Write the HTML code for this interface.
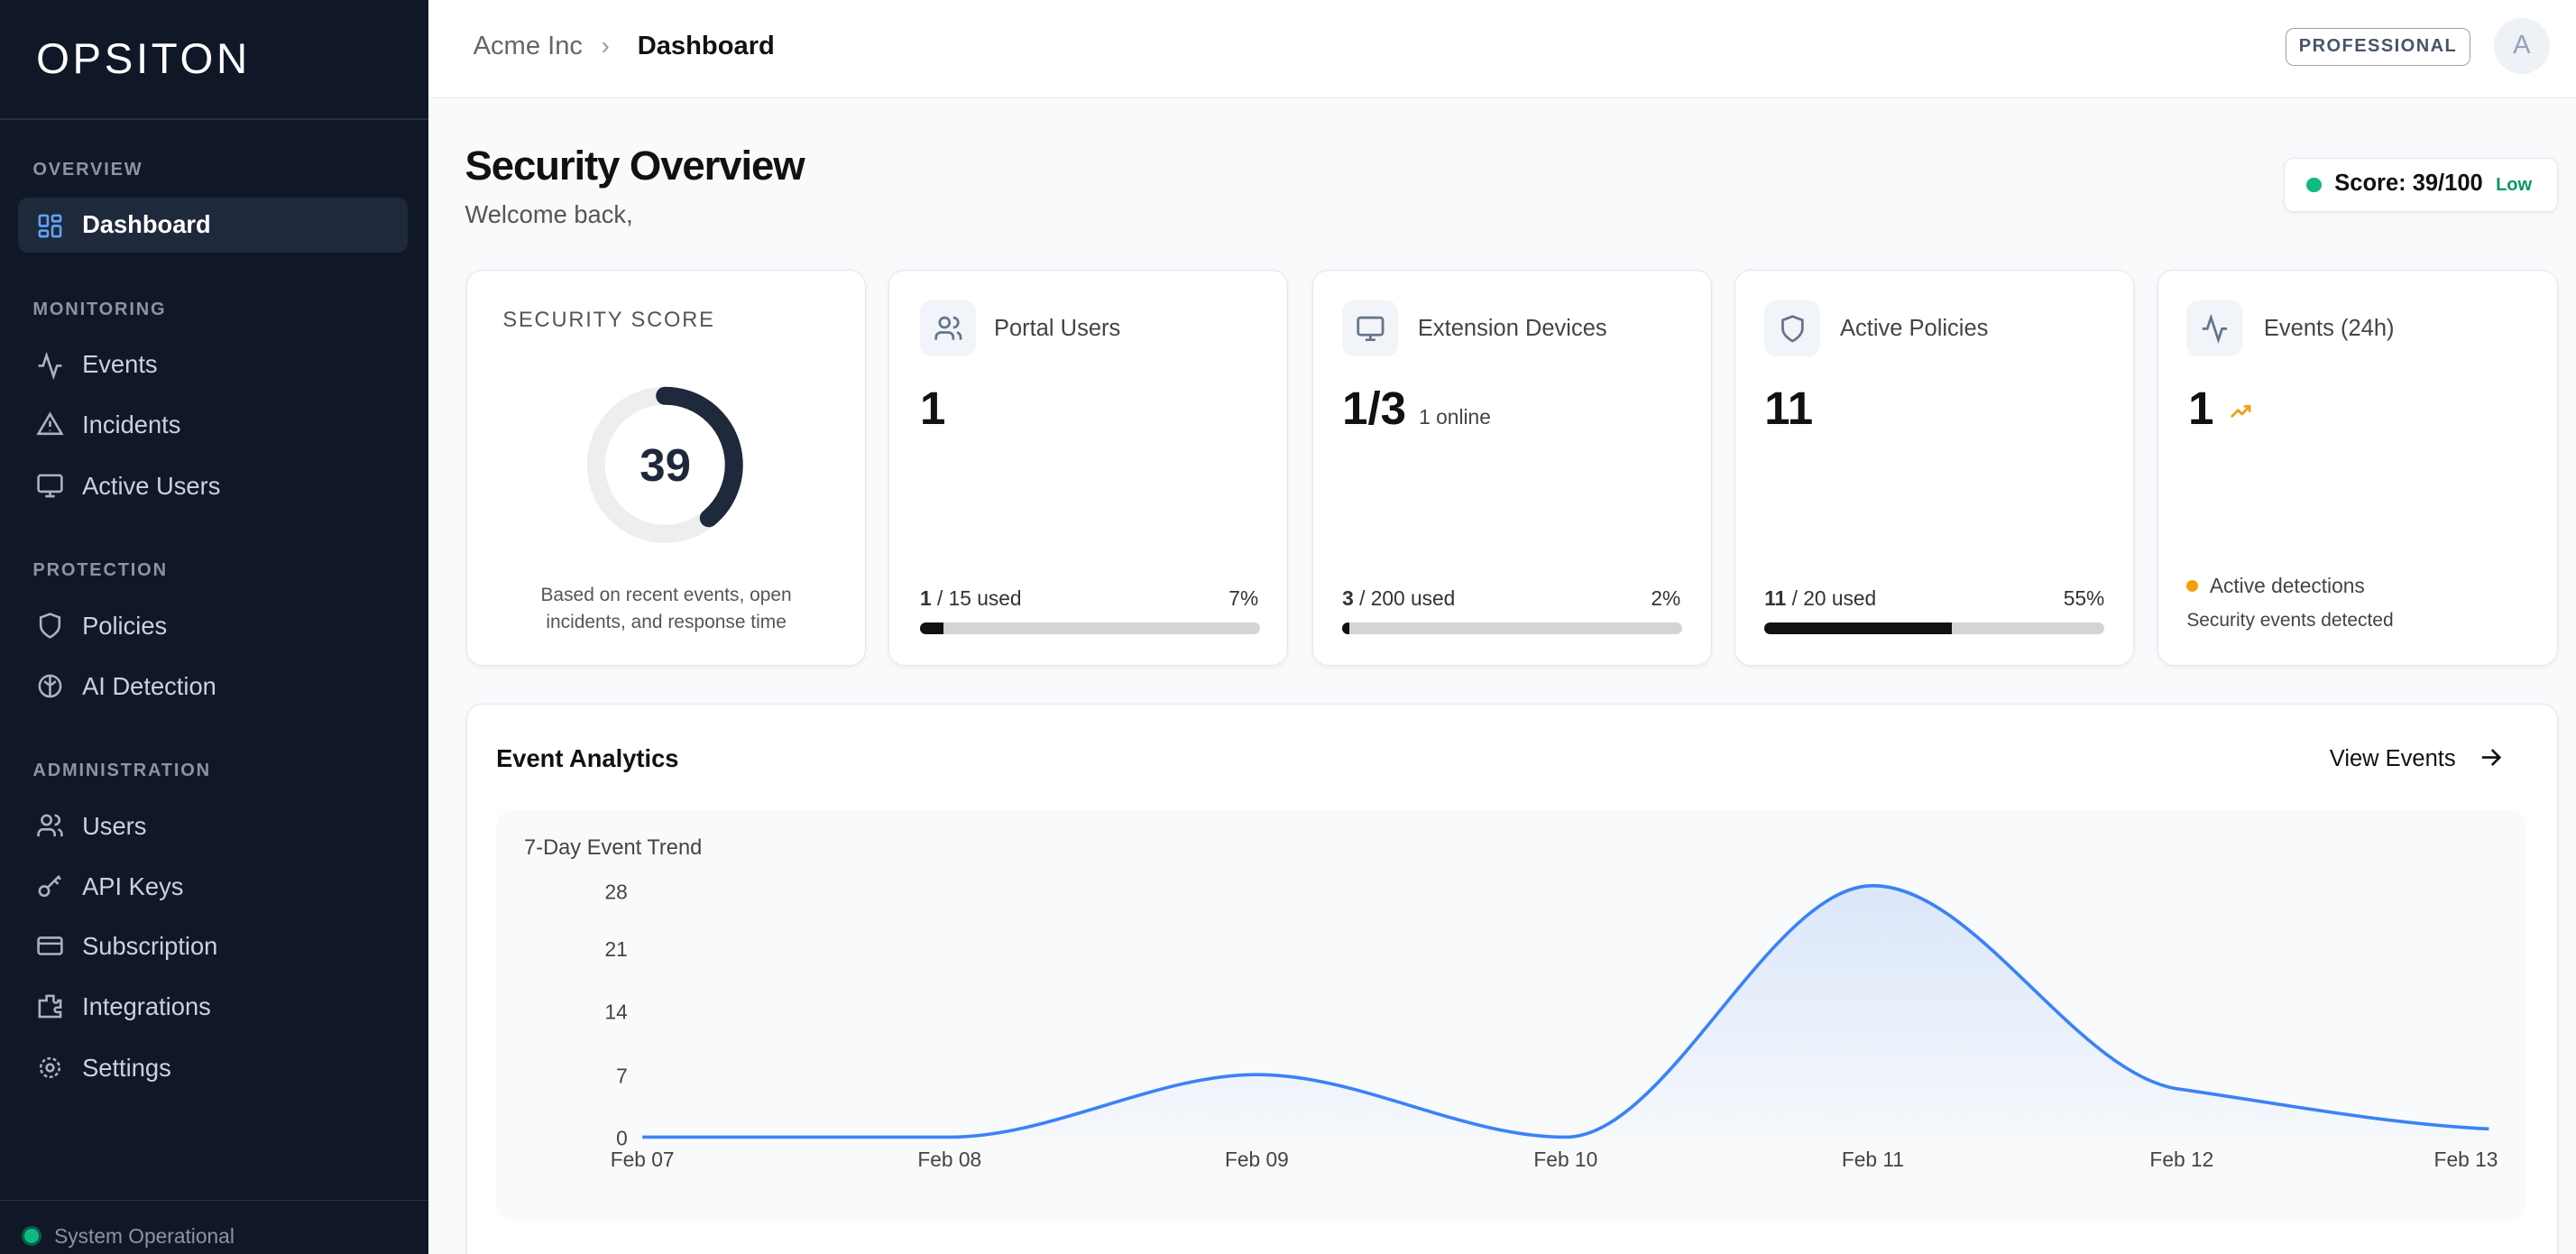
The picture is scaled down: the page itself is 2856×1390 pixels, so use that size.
<!DOCTYPE html>
<html><head><meta charset="utf-8"><style>
html{zoom:1.82143;background:#f8fafc;overflow:hidden;height:763px}
*{box-sizing:border-box;margin:0;padding:0}
body{width:1568px;height:763px;overflow:hidden;font-family:"Liberation Sans",sans-serif;background:#f8fafc}
#w{position:relative;width:1568px;height:763px;overflow:hidden}
.abs{position:absolute}
.sb{left:0;top:0;width:261px;height:763px;background:#101828}
.logo{left:22px;top:21px;color:#fff;font-size:26px;font-weight:300;letter-spacing:2px}
.sec{left:20px;color:#8a94a6;font-size:11px;font-weight:bold;letter-spacing:1px}
.it{left:50px;color:#cbd2dc;font-size:15px;font-weight:500}
.ic{left:22px;width:17px;height:17px}
.card{background:#fff;border:1px solid #e3e7ee;border-radius:10px;box-shadow:0 1px 3px rgba(0,0,0,.06)}
.ibox{width:34px;height:34px;border-radius:7px;background:#f1f4f8}
.lbl{font-size:14px;color:#444}
.big{font-size:28px;font-weight:bold;color:#111}
.bar{height:7px;border-radius:4px;background:#d4d4d4;overflow:hidden}
.bar i{display:block;height:100%;background:#111}
.sm{font-size:12.5px;color:#333}
</style></head><body><div id="w">
<div class="abs sb"></div>
<div class="abs logo">OPSITON</div>
<div class="abs" style="left:0;top:72px;width:261px;height:1px;background:#243047"></div>
<div class="abs sec" style="top:97px">OVERVIEW</div>
<div class="abs" style="left:11px;top:120px;width:237px;height:34px;background:#1e293b;border-radius:6px"></div>
<svg class="abs ic" style="top:129px" viewBox="0 0 24 24" fill="none" stroke="#60a5fa" stroke-width="2"><rect x="3" y="3" width="7" height="9" rx="1"/><rect x="14" y="3" width="7" height="5" rx="1"/><rect x="14" y="12" width="7" height="9" rx="1"/><rect x="3" y="16" width="7" height="5" rx="1"/></svg>
<div class="abs it" style="top:128px;color:#fff;font-weight:bold">Dashboard</div>
<div class="abs sec" style="top:182px">MONITORING</div>
<svg class="abs ic" style="top:214px" viewBox="0 0 24 24" fill="none" stroke="#aab3c0" stroke-width="2"><path d="M22 12h-4l-3 9L9 3l-3 9H2"/></svg>
<div class="abs it" style="top:213px">Events</div>
<svg class="abs ic" style="top:250px" viewBox="0 0 24 24" fill="none" stroke="#aab3c0" stroke-width="2"><path d="M12 3L2 20h20z"/><path d="M12 9v5M12 17v.5"/></svg>
<div class="abs it" style="top:250px">Incidents</div>
<svg class="abs ic" style="top:287px" viewBox="0 0 24 24" fill="none" stroke="#aab3c0" stroke-width="2"><rect x="2" y="3" width="20" height="14" rx="2"/><path d="M8 21h8M12 17v4"/></svg>
<div class="abs it" style="top:287px">Active Users</div>
<div class="abs sec" style="top:341px">PROTECTION</div>
<svg class="abs ic" style="top:372px" viewBox="0 0 24 24" fill="none" stroke="#aab3c0" stroke-width="2"><path d="M12 22s8-4 8-10V5l-8-3-8 3v7c0 6 8 10 8 10z"/></svg>
<div class="abs it" style="top:372px">Policies</div>
<svg class="abs ic" style="top:409px" viewBox="0 0 24 24" fill="none" stroke="#aab3c0" stroke-width="2"><circle cx="12" cy="12" r="9"/><path d="M12 3v18M7 8c2 1 3 3 5 3M17 8c-2 1-3 3-5 3"/></svg>
<div class="abs it" style="top:409px">AI Detection</div>
<div class="abs sec" style="top:463px">ADMINISTRATION</div>
<svg class="abs ic" style="top:494px" viewBox="0 0 24 24" fill="none" stroke="#aab3c0" stroke-width="2"><circle cx="9" cy="7" r="4"/><path d="M2 21v-2a4 4 0 014-4h6a4 4 0 014 4v2M16 3a4 4 0 010 8M22 21v-2a4 4 0 00-3-4"/></svg>
<div class="abs it" style="top:494px">Users</div>
<svg class="abs ic" style="top:531px" viewBox="0 0 24 24" fill="none" stroke="#aab3c0" stroke-width="2"><circle cx="7" cy="16" r="4"/><path d="M10 13l10-10M16 7l3 3M19 4l2 2"/></svg>
<div class="abs it" style="top:531px">API Keys</div>
<svg class="abs ic" style="top:567px" viewBox="0 0 24 24" fill="none" stroke="#aab3c0" stroke-width="2"><rect x="2" y="5" width="20" height="14" rx="2"/><path d="M2 10h20"/></svg>
<div class="abs it" style="top:567px">Subscription</div>
<svg class="abs ic" style="top:604px" viewBox="0 0 24 24" fill="none" stroke="#aab3c0" stroke-width="2"><path d="M9 3h6v4a2 2 0 104 0h2v6h-3a2 2 0 100 4h3v4H3V7h6z"/></svg>
<div class="abs it" style="top:604px">Integrations</div>
<svg class="abs ic" style="top:641px" viewBox="0 0 24 24" fill="none" stroke="#aab3c0" stroke-width="2"><circle cx="12" cy="12" r="3"/><circle cx="12" cy="12" r="8" stroke-dasharray="3 2"/></svg>
<div class="abs it" style="top:641px">Settings</div>
<div class="abs" style="left:0;top:730px;width:261px;height:1px;background:#243047"></div>
<div class="abs" style="left:13px;top:746px;width:12px;height:12px;border-radius:6px;background:#10b981;border:2px solid #065f46"></div>
<div class="abs" style="left:33px;top:745px;color:#8a94a6;font-size:12.5px">System Operational</div>

<div class="abs" style="left:261px;top:0;width:1307px;height:60px;background:#fff;border-bottom:1px solid #e5e7eb"></div>
<div class="abs" style="left:288px;top:19px;font-size:16px;color:#666">Acme Inc</div>
<div class="abs" style="left:366px;top:19px;font-size:15px;color:#999">›</div>
<div class="abs" style="left:388px;top:19px;font-size:16px;color:#111;font-weight:bold">Dashboard</div>
<div class="abs" style="left:1391px;top:17px;width:113px;height:23px;border:1px solid #94a3b8;border-radius:5px;font-size:11px;font-weight:bold;color:#475569;letter-spacing:.8px;text-align:center;line-height:21px">PROFESSIONAL</div>
<div class="abs" style="left:1518px;top:11px;width:34px;height:34px;border-radius:17px;background:#eef1f5;color:#94a3b8;font-size:16px;text-align:center;line-height:34px">A</div>

<div class="abs" style="left:283px;top:87px;font-size:25px;font-weight:bold;color:#111;letter-spacing:-.6px">Security Overview</div>
<div class="abs" style="left:283px;top:122px;font-size:15px;color:#555">Welcome back,</div>
<div class="abs card" style="left:1390px;top:96px;width:167px;height:33px;border-radius:6px"></div>
<div class="abs" style="left:1404px;top:108px;width:9px;height:9px;border-radius:5px;background:#10b981"></div>
<div class="abs" style="left:1421px;top:104px;font-size:14px;font-weight:bold;color:#111">Score: 39/100 <span style="font-size:11px;color:#059669;margin-left:4px">Low</span></div>

<div class="abs card" style="left:284px;top:164px;width:243px;height:241px"></div>
<div class="abs" style="left:306px;top:188px;font-size:13px;color:#555;letter-spacing:1px">SECURITY SCORE</div>
<svg class="abs" style="left:356px;top:234px" width="100" height="100" viewBox="0 0 100 100"><circle cx="49" cy="49" r="42" fill="none" stroke="#eeeeee" stroke-width="11"/><circle cx="49" cy="49" r="42" fill="none" stroke="#1e293b" stroke-width="11" stroke-linecap="round" stroke-dasharray="103 400" transform="rotate(-90 49 49)"/></svg>
<div class="abs" style="left:356px;top:267px;width:98px;text-align:center;font-size:28px;font-weight:bold;color:#1e293b">39</div>
<div class="abs" style="left:284px;top:354px;width:243px;text-align:center;font-size:11.5px;color:#555;line-height:16.5px">Based on recent events, open<br>incidents, and response time</div>

<div class="abs card" style="left:541px;top:164px;width:243px;height:241px"></div>
<div class="abs ibox" style="left:560px;top:183px"></div>
<svg class="abs" style="left:568px;top:191px" width="18" height="18" viewBox="0 0 24 24" fill="none" stroke="#64748b" stroke-width="2"><circle cx="9" cy="7" r="4"/><path d="M2 21v-2a4 4 0 014-4h6a4 4 0 014 4v2M16 3a4 4 0 010 8M22 21v-2a4 4 0 00-3-4"/></svg>
<div class="abs lbl" style="left:605px;top:192px">Portal Users</div>
<div class="abs big" style="left:560px;top:232px">1</div>
<div class="abs sm" style="left:560px;top:357px"><b>1</b> / 15 used</div>
<div class="abs sm" style="left:740px;top:357px;width:26px;text-align:right">7%</div>
<div class="abs bar" style="left:560px;top:379px;width:207px"><i style="width:7%"></i></div>

<div class="abs card" style="left:799px;top:164px;width:243px;height:241px"></div>
<div class="abs ibox" style="left:817px;top:183px"></div>
<svg class="abs" style="left:825px;top:191px" width="18" height="18" viewBox="0 0 24 24" fill="none" stroke="#64748b" stroke-width="2"><rect x="2" y="3" width="20" height="14" rx="2"/><path d="M8 21h8M12 17v4"/></svg>
<div class="abs lbl" style="left:863px;top:192px">Extension Devices</div>
<div class="abs big" style="left:817px;top:232px">1/3 <span style="font-size:12.5px;font-weight:normal;color:#444">1 online</span></div>
<div class="abs sm" style="left:817px;top:357px"><b>3</b> / 200 used</div>
<div class="abs sm" style="left:997px;top:357px;width:26px;text-align:right">2%</div>
<div class="abs bar" style="left:817px;top:379px;width:207px"><i style="width:2%"></i></div>

<div class="abs card" style="left:1056px;top:164px;width:243px;height:241px"></div>
<div class="abs ibox" style="left:1074px;top:183px"></div>
<svg class="abs" style="left:1082px;top:191px" width="18" height="18" viewBox="0 0 24 24" fill="none" stroke="#64748b" stroke-width="2"><path d="M12 22s8-4 8-10V5l-8-3-8 3v7c0 6 8 10 8 10z"/></svg>
<div class="abs lbl" style="left:1120px;top:192px">Active Policies</div>
<div class="abs big" style="left:1074px;top:232px">11</div>
<div class="abs sm" style="left:1074px;top:357px"><b>11</b> / 20 used</div>
<div class="abs sm" style="left:1251px;top:357px;width:30px;text-align:right">55%</div>
<div class="abs bar" style="left:1074px;top:379px;width:207px"><i style="width:55%"></i></div>

<div class="abs card" style="left:1313px;top:164px;width:244px;height:241px"></div>
<div class="abs ibox" style="left:1331px;top:183px"></div>
<svg class="abs" style="left:1339px;top:191px" width="18" height="18" viewBox="0 0 24 24" fill="none" stroke="#64748b" stroke-width="2"><path d="M22 12h-4l-3 9L9 3l-3 9H2"/></svg>
<div class="abs lbl" style="left:1378px;top:192px">Events (24h)</div>
<div class="abs big" style="left:1332px;top:232px">1</div>
<svg class="abs" style="left:1356px;top:243px" width="16" height="14" viewBox="0 0 24 24" fill="none" stroke="#f59e0b" stroke-width="2.5"><path d="M2 18l7-7 4 4 8-8M15 7h6v6"/></svg>
<div class="abs" style="left:1331px;top:353px;width:7px;height:7px;border-radius:4px;background:#f59e0b"></div>
<div class="abs sm" style="left:1345px;top:349px;color:#444">Active detections</div>
<div class="abs" style="left:1331px;top:371px;font-size:11.5px;color:#444">Security events detected</div>

<div class="abs card" style="left:284px;top:428px;width:1273px;height:345px"></div>
<div class="abs" style="left:302px;top:453px;font-size:15px;font-weight:bold;color:#111">Event Analytics</div>
<div class="abs" style="left:1418px;top:454px;font-size:14px;font-weight:500;color:#111">View Events</div>
<svg class="abs" style="left:1508px;top:453px" width="16" height="16" viewBox="0 0 24 24" fill="none" stroke="#111" stroke-width="2.2"><path d="M4 12h16M13 5l7 7-7 7"/></svg>
<div class="abs" style="left:302px;top:493px;width:1236px;height:250px;background:#f9fafb;border-radius:10px"></div>
<div class="abs" style="left:319px;top:509px;font-size:13px;color:#444">7-Day Event Trend</div>
<svg class="abs" style="left:0;top:0" width="1568" height="763" font-family="Liberation Sans, sans-serif" font-size="12.5" fill="#444">
<defs><linearGradient id="g" x1="0" y1="0" x2="0" y2="1"><stop offset="0" stop-color="#3b82f6" stop-opacity=".16"/><stop offset="1" stop-color="#3b82f6" stop-opacity=".02"/></linearGradient></defs>
<g text-anchor="end"><text x="382" y="547">28</text><text x="382" y="582">21</text><text x="382" y="620">14</text><text x="382" y="659">7</text><text x="382" y="697">0</text></g>
<g text-anchor="middle"><text x="391" y="710">Feb 07</text><text x="578" y="710">Feb 08</text><text x="765" y="710">Feb 09</text><text x="953" y="710">Feb 10</text><text x="1140" y="710">Feb 11</text><text x="1328" y="710">Feb 12</text><text x="1501" y="710">Feb 13</text></g>
<path d="M391,692 C453,692 516,692 578,692 C640,692 703,654 765,654 C828,654 890,692 953,692 C1015,692 1078,539 1140,539 C1203,539 1265,656 1328,663 C1390,672 1453,684 1515,687 L1515,692 Z" fill="url(#g)"/>
<path d="M391,692 C453,692 516,692 578,692 C640,692 703,654 765,654 C828,654 890,692 953,692 C1015,692 1078,539 1140,539 C1203,539 1265,656 1328,663 C1390,672 1453,684 1515,687" fill="none" stroke="#3b82f6" stroke-width="2"/>
</svg>
</div></body></html>
